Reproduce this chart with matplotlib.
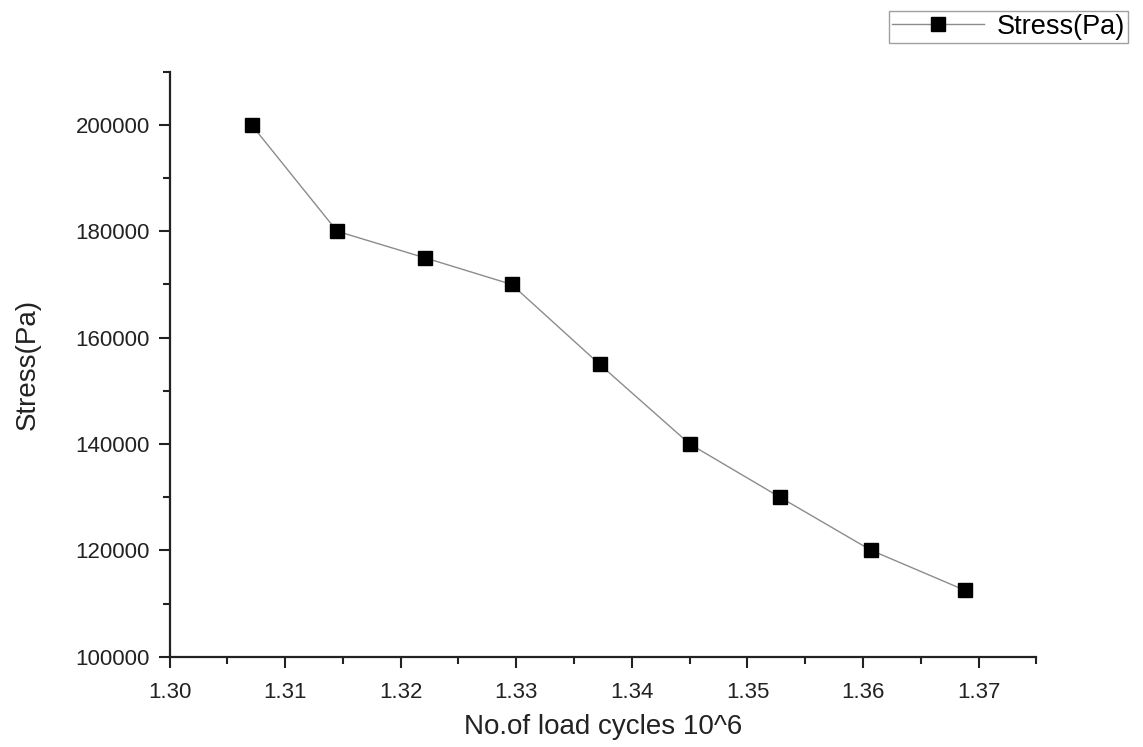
import matplotlib.pyplot as plt
from matplotlib.ticker import MultipleLocator

plt.rcParams['font.family'] = ['Liberation Sans', 'DejaVu Sans']

# load cycles (x 10^6) and the stress at each
cycles = [1.3071, 1.3145, 1.3221, 1.3296, 1.3372, 1.3450, 1.3528, 1.3607, 1.3688]
stress = [200000, 180000, 175000, 170000, 155000, 140000, 130000, 120000, 112500]

fig = plt.figure(figsize=(11.43, 7.47), dpi=100)
ax = fig.add_axes([0.1483, 0.1209, 0.7585, 0.7831])

line, = ax.plot(cycles, stress, color='#8c8c8c', lw=1.0, marker='s',
                markersize=10, markerfacecolor='black', markeredgecolor='black')

ax.set_xlim(1.30, 1.375)
ax.set_ylim(100000, 210000)
ax.xaxis.set_major_locator(MultipleLocator(0.01))
ax.xaxis.set_minor_locator(MultipleLocator(0.005))
ax.yaxis.set_major_locator(MultipleLocator(20000))
ax.yaxis.set_minor_locator(MultipleLocator(10000))
ax.xaxis.set_major_formatter(plt.FormatStrFormatter('%.2f'))
ax.yaxis.set_major_formatter(plt.FormatStrFormatter('%d'))

for side in ('top', 'right'):
    ax.spines[side].set_visible(False)
for side in ('left', 'bottom'):
    ax.spines[side].set_linewidth(1.6)
    ax.spines[side].set_color('#222222')

ax.tick_params(which='major', direction='out', length=8, width=1.5,
               labelsize=16, colors='#222222', pad=6)
ax.tick_params(which='minor', direction='out', length=5, width=1.5, colors='#222222')
ax.tick_params(axis='x', which='major', pad=10)

ax.set_xlabel('No.of load cycles 10^6', fontsize=20, color='#222222', va='center')
ax.set_ylabel('Stress(Pa)', fontsize=20, color='#222222', va='center')
ax.xaxis.set_label_coords(0.5, -0.12)
ax.yaxis.set_label_coords(-0.163, 0.5)

leg = fig.legend([line], ['Stress(Pa)'], loc='upper right',
                 bbox_to_anchor=(0.987, 0.985), fontsize=19.5, frameon=True,
                 fancybox=False, edgecolor='#888888', handlelength=3.4,
                 borderpad=0.1, handletextpad=0.5, borderaxespad=0)
leg.get_frame().set_linewidth(1.0)

fig.savefig('out.png', dpi=100)
